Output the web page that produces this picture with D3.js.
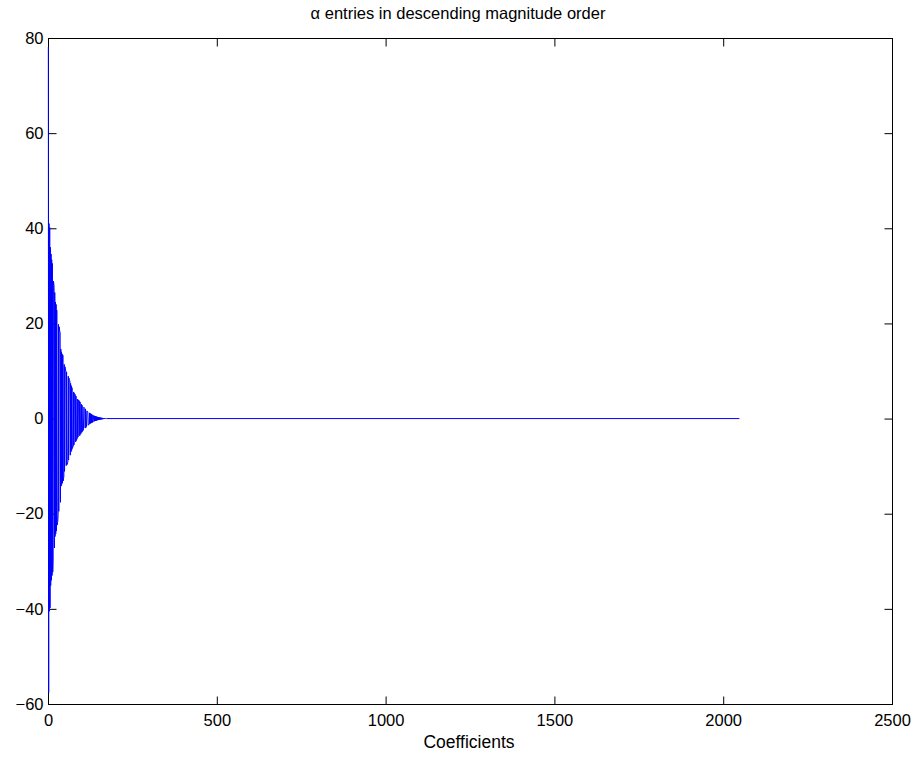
<!DOCTYPE html>
<html>
<head>
<meta charset="utf-8">
<script src="https://cdn.jsdelivr.net/npm/d3@7"></script>
<style>
  html, body { margin: 0; padding: 0; background: #fff; }
  svg { display: block; }
  text { font-family: "Liberation Sans", Arial, Helvetica, sans-serif; fill: #000; }
</style>
</head>
<body>
<svg id="chart" width="918" height="759"></svg>
<script>
// Sorted wavelet coefficients (largest magnitude first); entries past the last
// listed one are zero up to nCoefficients.
const nCoefficients = 2048;
const alphaHead = [
  78.1, -57.6, 41.0, -40.5, 40.2, -39.8, 36.0, -35.1, 34.6, -34.0,
  33.4, -33.0, 32.6, -32.3, -29.8, 28.9, 28.5, 27.6, -27.2, 26.5,
  -24.8, 24.5, -24.2, 24.0, -23.6, 22.8, -22.4, -21.9, -21.6, -20.2,
  19.8, -19.5, 19.3, 18.6, 18.3, 18.0, -17.6, 14.6, -14.2, 14.0,
  -13.8, 13.6, -13.5, 13.3, -13.1, -12.6, -12.2, 11.4, -11.1, 10.9,
  10.6, 10.2, 10.0, -9.9, 9.8, -9.7, -9.6, -9.3, -9.0, 8.9,
  -8.7, 8.5, 8.2, 8.0, 7.9, -7.7, 7.4, -7.0, 6.9, -6.7,
  6.5, -6.3, -6.1, -5.9, -5.8, 5.6, -5.5, 5.3, 5.2, 5.1,
  5.0, -4.9, 4.7, -4.6, -4.4, -4.3, -4.2, 4.1, -3.9, 3.9,
  3.8, 3.8, 3.7, -3.6, 3.5, -3.3, -3.2, -3.1, 3.0, -2.9,
  2.8, -2.7, -2.6, -2.5, -2.4, 2.4, 2.3, 2.2, 2.1, -2.0,
  2.0, -1.9, -1.8, -1.7, 1.6, 1.6, 1.5, 1.4, -1.4, -1.3,
  -1.3, -1.2, 1.2, -1.1, 1.1, -1.0, 1.0, -0.95, 0.9, -0.85,
  0.8, -0.78, -0.74, -0.7, 0.67, 0.63, 0.6, -0.57, 0.54, -0.51,
  0.48, -0.45, 0.43, -0.4, 0.38, -0.36, 0.34, -0.32, 0.3, -0.28,
  0.26, -0.25, 0.23, -0.22, 0.2, -0.19, 0.18, -0.16, 0.15, -0.14,
  0.13, -0.12, 0.11, -0.1, 0.09, -0.08, 0.07, -0.06, 0.05, -0.04,
  0.03, -0.02, 0.01, 0
];
const xTicks = [0, 500, 1000, 1500, 2000, 2500];
const yTicks = [-60, -40, -20, 0, 20, 40, 60, 80];
const titleText = "\u03b1 entries in descending magnitude order";
const xLabelText = "Coefficients";

// Points as [index, value]; MATLAB-style 1-based indices.
const points = alphaHead.map((v, i) => [i + 1, v]);
points.push([nCoefficients, 0]);

const svg = d3.select("#chart");
const plotLeft = 48, plotRight = 892, plotTop = 38, plotBottom = 704;

const x = d3.scaleLinear().domain([0, 2500]).range([plotLeft, plotRight]);
const y = d3.scaleLinear().domain([-60, 80]).range([plotBottom, plotTop]);

const fmt = d => (d < 0 ? "\u2212" + Math.abs(d) : String(d));

// Frame with inward ticks on all four sides
function styleAxis(g) {
  g.select(".domain").remove();
  g.selectAll(".tick line").attr("stroke", "#000").attr("stroke-width", 1);
  g.selectAll("text").attr("font-size", 16.5).attr("fill", "#000")
    .style("font-family", "'Liberation Sans', Arial, Helvetica, sans-serif");
}

svg.append("g").attr("transform", `translate(${plotLeft + 0.5},0)`)
  .call(d3.axisLeft(y).tickValues(yTicks).tickSize(-8).tickPadding(5).tickFormat(fmt))
  .call(styleAxis);
svg.append("g").attr("transform", `translate(${plotRight + 0.5},0)`)
  .call(d3.axisRight(y).tickValues(yTicks).tickSize(-8).tickFormat(""))
  .call(styleAxis);
svg.append("g").attr("transform", `translate(0,${plotBottom + 0.5})`)
  .call(d3.axisBottom(x).tickValues(xTicks).tickSize(-8).tickPadding(10).tickFormat(fmt))
  .call(styleAxis);
svg.append("g").attr("transform", `translate(0,${plotTop + 0.5})`)
  .call(d3.axisTop(x).tickValues(xTicks).tickSize(-8).tickFormat(""))
  .call(styleAxis);

svg.append("rect")
  .attr("x", plotLeft + 0.5).attr("y", plotTop + 0.5)
  .attr("width", plotRight - plotLeft).attr("height", plotBottom - plotTop)
  .attr("fill", "none").attr("stroke", "#000").attr("stroke-width", 1);

// Coefficient line
svg.append("path")
  .datum(points)
  .attr("fill", "none")
  .attr("stroke", "#0000ff")
  .attr("stroke-width", 1)
  .attr("d", d3.line().x(d => x(d[0])).y(d => y(d[1])));

// Title and axis label
svg.append("text")
  .attr("x", 458).attr("y", 19)
  .attr("text-anchor", "middle").attr("font-size", 16.5)
  .text(titleText);
svg.append("text")
  .attr("x", (plotLeft + plotRight) / 2 - 1).attr("y", 748)
  .attr("text-anchor", "middle").attr("font-size", 17.5)
  .text(xLabelText);
</script>
</body>
</html>
